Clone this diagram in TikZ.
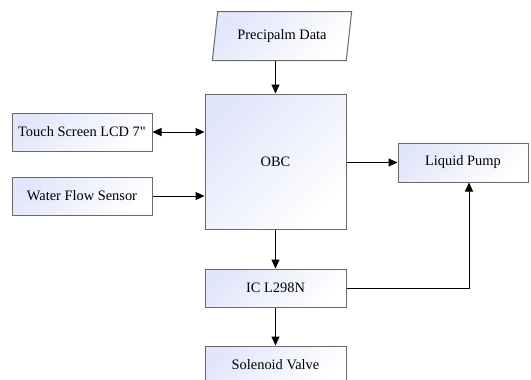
\documentclass[tikz,border=0pt]{standalone}
\usepackage{fontspec}
\newfontfamily\boxfont{Liberation Serif}[Ligatures=Common]
\usetikzlibrary{arrows.meta,shapes.geometric}
\definecolor{boxfill}{RGB}{226,230,250}
\definecolor{boxline}{RGB}{105,105,105}
\tikzset{
  block/.style={draw=boxline, line width=1pt, left color=boxfill, right color=white,
    shading angle=45, inner sep=0pt, font=\boxfont\fontsize{14.4}{17}\selectfont},
  arr/.style={draw=black, line width=1pt, -{Triangle[length=9pt,width=8pt]}}
}
\begin{document}
\begin{tikzpicture}[x=1pt, y=-1pt]
  \useasboundingbox (0,0) rectangle (531,380);
  \clip (0,0) rectangle (531,380);
  \node[block, trapezium, trapezium left angle=74, trapezium right angle=106,
    trapezium stretches=true, minimum width=140pt, minimum height=49pt] (prec) at (282,36) {Precipalm Data};
  \node[block, minimum width=141pt, minimum height=135pt] (obc) at (275.5,161.5) {OBC};
  \node[block, minimum width=140pt, minimum height=38pt] (lcd) at (82,132) {Touch Screen LCD 7\char34};
  \node[block, minimum width=140pt, minimum height=38pt] (water) at (82,196) {Water Flow Sensor};
  \node[block, minimum width=130pt, minimum height=39pt] (pump) at (463,162.5) {Liquid Pump};
  \node[block, minimum width=141pt, minimum height=38pt] (ic) at (275.5,288) {IC L298N};
  \node[block, minimum width=141pt, minimum height=38pt] (sol) at (275.5,365) {Solenoid Valve};
  \draw[arr] (obc.north |- prec.south) -- (obc.north);
  \draw[arr, {Triangle[length=9pt,width=8pt]}-{Triangle[length=9pt,width=8pt]}] (lcd.east) -- (lcd.east -| obc.west);
  \draw[arr] (water.east) -- (water.east -| obc.west);
  \draw[arr] (obc.east |- pump.west) -- (pump.west);
  \draw[arr] (obc.south) -- (ic.north);
  \draw[arr] (ic.south) -- (sol.north);
  \draw[arr] (ic.east) -| ([xshift=6pt]pump.south);
\end{tikzpicture}
\end{document}
